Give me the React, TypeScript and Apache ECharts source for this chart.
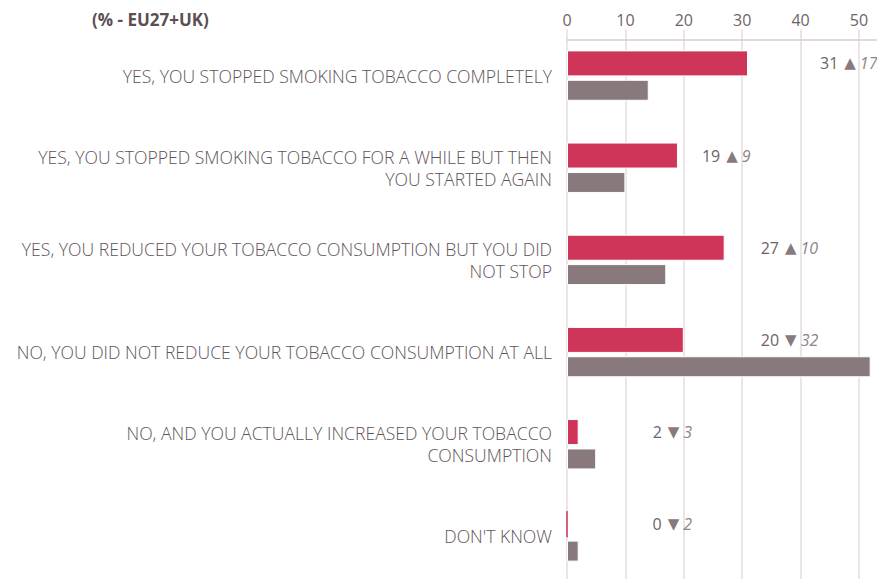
import React, { useEffect, useRef } from "react";
import * as echarts from "echarts";

const categories: string[] = [
  "YES, YOU STOPPED SMOKING TOBACCO COMPLETELY",
  "YES, YOU STOPPED SMOKING TOBACCO FOR A WHILE BUT THEN\nYOU STARTED AGAIN",
  "YES, YOU REDUCED YOUR TOBACCO CONSUMPTION BUT YOU DID\nNOT STOP",
  "NO, YOU DID NOT REDUCE YOUR TOBACCO CONSUMPTION AT ALL",
  "NO, AND YOU ACTUALLY INCREASED YOUR TOBACCO\nCONSUMPTION",
  "DON'T KNOW",
];
const current: number[] = [31, 19, 27, 20, 2, 0];
const previous: number[] = [14, 10, 17, 52, 5, 2];
const change: number[] = [17, 9, 10, 32, 3, 2];
const direction: string[] = ["up", "up", "up", "down", "down", "down"];
const xTicks: number[] = [0, 10, 20, 30, 40, 50, 60];
const titleText = "(% - EU27+UK)";

const labelGap: number[] = [72, 24, 36, 77, 74, 85];

const RED = "#cf3558";
const GREY = "#887a7c";
const TEXT = "#5e5358";
const FONT = "'Open Sans', 'Noto Sans', sans-serif";

export default function App() {
  const ref = useRef<HTMLDivElement>(null);
  useEffect(() => {
    if (!ref.current) return;
    const chart = echarts.init(ref.current, null, { renderer: "svg" });
    chart.setOption({
      animation: false,
      backgroundColor: "#ffffff",
      textStyle: { fontFamily: FONT },
      title: {
        text: titleText,
        left: 87,
        top: 6,
        textStyle: { fontFamily: FONT, fontSize: 17, fontWeight: "bold", color: "#5b4f55" },
      },
      grid: { left: 567, top: 29.5, width: 350.4, height: 553, containLabel: false },
      xAxis: {
        type: "value",
        position: "top",
        offset: -10.5,
        min: xTicks[0],
        max: xTicks[xTicks.length - 1],
        interval: 10,
        axisLine: { show: true, lineStyle: { color: "#d6cecc", width: 1.5 } },
        axisTick: { show: false },
        axisLabel: { fontSize: 16, color: "#6e6469", margin: 12, fontFamily: FONT, showMaxLabel: false },
        splitLine: { show: true, lineStyle: { color: "#e4dedc", width: 1.5 } },
      },
      yAxis: {
        type: "category",
        inverse: true,
        data: categories,
        axisLine: { show: false },
        axisTick: { show: false },
        axisLabel: {
          fontSize: 17.6,
          lineHeight: 22,
          fontWeight: 300,
          color: TEXT,
          margin: 15,
          fontFamily: FONT,
          padding: [0, 0, 4, 0],
        },
      },
      series: [
        {
          type: "bar",
          barWidth: 26,
          barGap: "13%",
          data: current.map((v, i) => ({
            value: v,
            itemStyle: { borderColor: v === 0 ? RED : "#ffffff" },
            label: { distance: labelGap[i] },
          })),
          itemStyle: { color: RED, borderColor: "#ffffff", borderWidth: 1 },
          label: {
            show: true,
            position: "right",
            formatter: (p: any) => {
              const i = p.dataIndex;
              const arrow = direction[i] === "up" ? "▲" : "▼";
              return `{a|${current[i]}}{t|${arrow}}{b|${change[i]}}`;
            },
            rich: {
              a: { fontSize: 16, color: "#6d6368", fontFamily: FONT },
              t: { fontSize: 15, color: GREY, fontFamily: "'DejaVu Sans', sans-serif", padding: [0, 4, 0, 6] },
              b: { fontSize: 16, color: "#8e8589", fontStyle: "italic", fontFamily: FONT },
            },
          },
        },
        {
          type: "bar",
          barWidth: 21,
          barGap: "13%",
          data: previous,
          itemStyle: { color: GREY, borderColor: "#ffffff", borderWidth: 1 },
        },
      ],
    });
    return () => chart.dispose();
  }, []);
  return (
    <div style={{ position: "fixed", left: 0, top: 0, width: 877, height: 579, overflow: "hidden", background: "#fff" }}>
      <div ref={ref} style={{ position: "absolute", left: 0, top: 0, width: 960, height: 600 }} />
    </div>
  );
}
